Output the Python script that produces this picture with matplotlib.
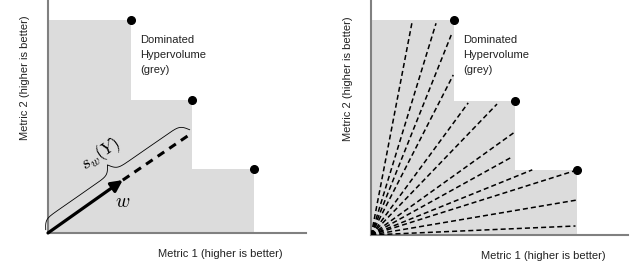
import numpy as np
import matplotlib
matplotlib.use("Agg")
import matplotlib.pyplot as plt

plt.rcParams["font.family"] = ["Liberation Sans", "DejaVu Sans"]
plt.rcParams["mathtext.fontset"] = "cm"

# Pareto front points (metric 1, metric 2), same in both panels
front_x = [0.32, 0.56, 0.80]
front_y = [0.915, 0.57, 0.275]

# left panel: scalarization direction w and where it meets the front
w_tip = (0.29, 0.227)
w_end = (0.558, 0.429)

# right panel: end points of the random scalarization directions
dir_x = [0.158, 0.252, 0.311, 0.319, 0.377, 0.489, 0.553, 0.541, 0.626, 0.802, 0.802, 0.794]
dir_y = [0.901, 0.901, 0.851, 0.681, 0.562, 0.557, 0.434, 0.328, 0.277, 0.277, 0.149, 0.038]

region_text = "Dominated\nHypervolume\n(grey)"
xlabel = "Metric 1 (higher is better)"
ylabel = "Metric 2 (higher is better)"

AX_GREY = "#808080"
FILL = "#dcdcdc"


def setup(ax):
    sx = [0, front_x[0], front_x[0], front_x[1], front_x[1], front_x[2], front_x[2], 0]
    sy = [front_y[0], front_y[0], front_y[1], front_y[1], front_y[2], front_y[2], 0, 0]
    ax.fill(sx, sy, color=FILL, lw=0, zorder=0)
    ax.plot(front_x, front_y, "o", color="k", ms=5.5, zorder=5)
    ax.set_xlim(0, 1)
    ax.set_ylim(0, 1)
    for s in ["top", "right"]:
        ax.spines[s].set_visible(False)
    for s in ["left", "bottom"]:
        ax.spines[s].set_color(AX_GREY)
        ax.spines[s].set_linewidth(1.5)
    ax.set_xticks([])
    ax.set_yticks([])
    ax.text(0.357, 0.85, region_text, fontsize=8, va="top", ha="left",
            linespacing=1.6, color="#222222")
    ax.text(0.67, -0.09, xlabel, fontsize=8, ha="center", va="center",
            transform=ax.transAxes, color="#222222")
    ax.text(-0.089, 0.665, ylabel, fontsize=8, ha="center", va="center",
            rotation=90, transform=ax.transAxes, color="#222222")


def draw_brace(ax, p0, p1, offset=4, height=18, beta=0.35):
    # curly brace drawn in display (pixel) space beside the segment p0-p1
    P0 = ax.transData.transform(p0)
    P1 = ax.transData.transform(p1)
    d = P1 - P0
    L = np.hypot(*d)
    u = d / L
    n = np.array([-u[1], u[0]])
    half = np.linspace(0, L / 2, 200)
    yh = 1 / (1 + np.exp(-beta * (half - half[0]))) + 1 / (1 + np.exp(-beta * (half - half[-1]))) - 0.5
    yb = np.concatenate([yh, yh[-2::-1]])
    t = np.linspace(0, L, len(yb))
    pts = P0 + np.outer(t, u) + np.outer(offset + height * yb, n)
    inv = ax.transData.inverted()
    dpts = inv.transform(pts)
    ax.plot(dpts[:, 0], dpts[:, 1], color="k", lw=0.6, zorder=4, clip_on=False)
    ang = np.degrees(np.arctan2(d[1], d[0]))
    tip = P0 + u * L / 2 + n * (offset + height + 13)
    tx, ty = inv.transform(tip)
    return tx, ty, ang


fig = plt.figure(figsize=(6.4, 2.8), dpi=100)
ax1 = fig.add_axes([0.075, 0.168, 0.403, 0.832])
ax2 = fig.add_axes([0.580, 0.161, 0.402, 0.839])

setup(ax1)
setup(ax2)

# left panel
ax1.annotate("", xy=w_tip, xytext=(0, 0),
             arrowprops=dict(arrowstyle="-|>", lw=2.3, color="k",
                             mutation_scale=17, shrinkA=0, shrinkB=0),
             zorder=6)
ax1.plot([w_tip[0], w_end[0]], [w_tip[1], w_end[1]], color="k", lw=2.2,
         dashes=(2.6, 2.0), zorder=3)
tx, ty, ang = draw_brace(ax1, (0, 0), w_end)
ax1.text(tx, ty, r"$s_w(Y)$", fontsize=13, rotation=ang, ha="center",
         va="center", rotation_mode="anchor")
ax1.text(0.29, 0.13, r"$w$", fontsize=14, ha="center", va="center")

# right panel
for ex, ey in zip(dir_x, dir_y):
    ax2.plot([0, ex], [0, ey], color="k", lw=1.1, dashes=(3.3, 2.0), zorder=3)

fig.savefig("out.png", dpi=100)
